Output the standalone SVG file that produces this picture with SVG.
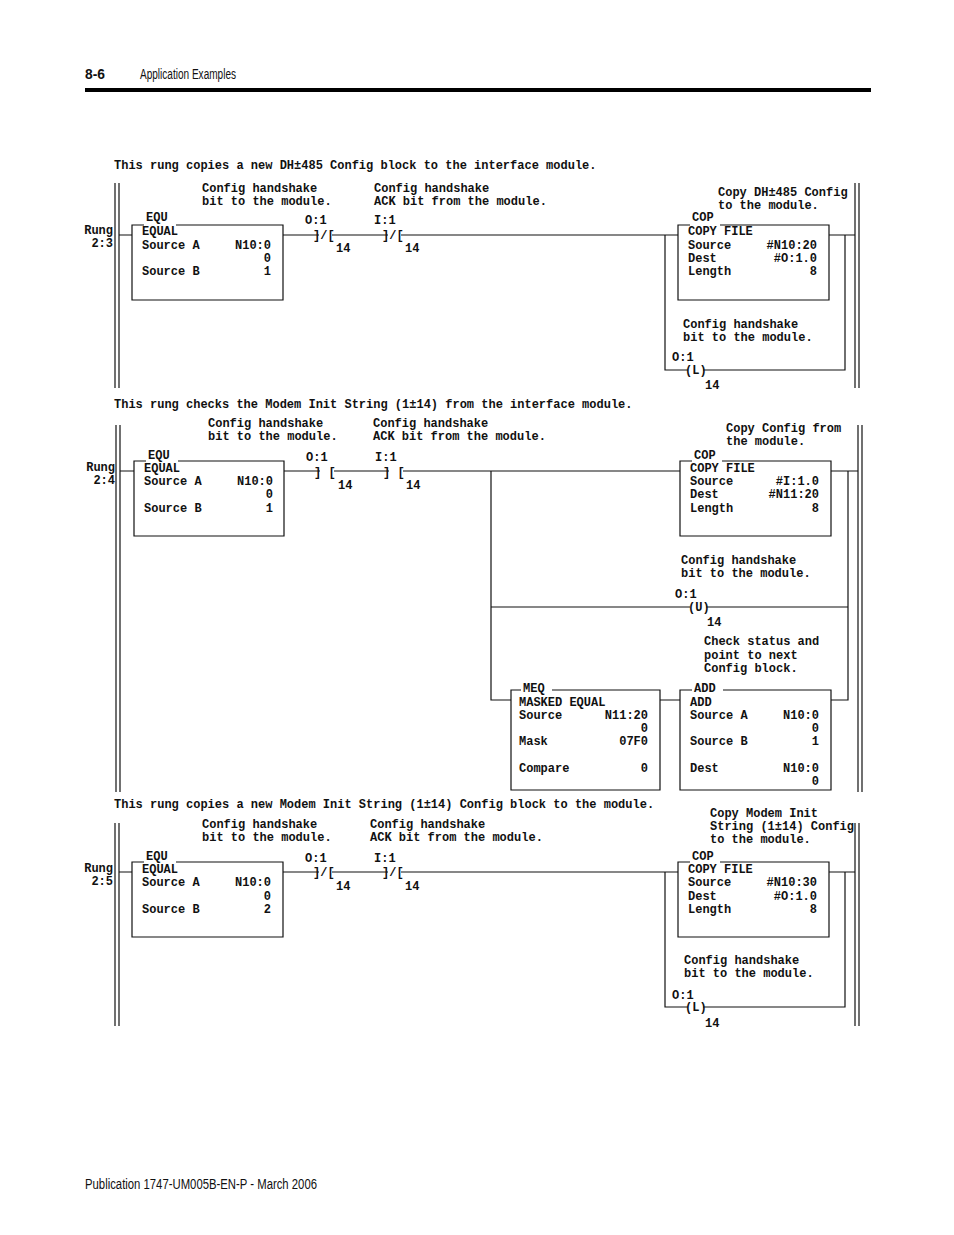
<svg xmlns="http://www.w3.org/2000/svg" width="954" height="1235" viewBox="0 0 954 1235">
<style>
text{font-family:"Liberation Mono","DejaVu Sans Mono",monospace;font-weight:bold;font-size:12px;fill:#111}
.e{text-anchor:end}
.h{font-family:"Liberation Sans",Arial,sans-serif;font-weight:normal;font-size:14px}
line,rect,path{stroke:#111;stroke-width:1.2;fill:none}
.f{stroke:none}
</style>
<rect class="f" x="0" y="0" width="954" height="1235" style="fill:#fff"/>
<text class="h" x="85" y="79" style="font-weight:bold" textLength="20" lengthAdjust="spacingAndGlyphs">8-6</text>
<text class="h" x="140" y="79" textLength="96" lengthAdjust="spacingAndGlyphs">Application Examples</text>
<rect class="f" x="85" y="88" width="786" height="4" style="fill:#000"/>
<text class="h" x="85" y="1189" textLength="232" lengthAdjust="spacingAndGlyphs">Publication 1747-UM005B-EN-P - March 2006</text>

<g id="rails">
<line x1="115" y1="183" x2="115" y2="388"/><line x1="119" y1="183" x2="119" y2="388"/>
<line x1="855" y1="183" x2="855" y2="388"/><line x1="859" y1="183" x2="859" y2="388"/>
<line x1="116" y1="425" x2="116" y2="792"/><line x1="120" y1="425" x2="120" y2="792"/>
<line x1="858" y1="425" x2="858" y2="792"/><line x1="862" y1="425" x2="862" y2="792"/>
<line x1="115" y1="823" x2="115" y2="1026"/><line x1="119" y1="823" x2="119" y2="1026"/>
<line x1="855" y1="823" x2="855" y2="1026"/><line x1="859" y1="823" x2="859" y2="1026"/>
</g>

<g id="connectors">
<path d="M119 235H132M283 235H319M332 235H388M401 235H665V370H688M703 370H845V235M829 235H855M665 235H678"/>
<path d="M120 471H134M284 471H320M334 471H389M403 471H680M831 471H858M848 471V700H831M491 471V700H511M660 700H680M491 607H690M706 607H848"/>
<path d="M119 872H132M283 872H319M332 872H388M401 872H665V1007H688M703 1007H845V872M829 872H855M665 872H678"/>
</g>

<g id="rung1">
<text x="114" y="169">This rung copies a new DH±485 Config block to the interface module.</text>
<text class="e" x="113" y="234">Rung</text><text class="e" x="113" y="247">2:3</text>
<text x="202" y="192">Config handshake</text><text x="202" y="205">bit to the module.</text>
<text x="374" y="192">Config handshake</text><text x="374" y="205">ACK bit from the module.</text>
<text x="305" y="224">O:1</text><text x="313" y="239">]/[</text><text x="336" y="252">14</text>
<text x="374" y="224">I:1</text><text x="382" y="239">]/[</text><text x="405" y="252">14</text>
<text x="718" y="196">Copy DH±485 Config</text><text x="718" y="209">to the module.</text>
<text x="683" y="328">Config handshake</text><text x="683" y="341">bit to the module.</text>
<text x="672" y="361">O:1</text><text x="685" y="374">(L)</text><text x="705" y="389">14</text>
</g>
<g id="equ1">
<path d="M144 225H132V300H283V225H176"/>
<text x="146" y="221">EQU</text><text x="142" y="235">EQUAL</text>
<text x="142" y="249">Source A</text><text class="e" x="271" y="249">N10:0</text>
<text class="e" x="271" y="262">0</text>
<text x="142" y="275">Source B</text><text class="e" x="271" y="275">1</text>
</g>
<g id="cop1">
<path d="M690 225H678V300H829V225H720"/>
<text x="692" y="221">COP</text><text x="688" y="235">COPY FILE</text>
<text x="688" y="249">Source</text><text class="e" x="817" y="249">#N10:20</text>
<text x="688" y="262">Dest</text><text class="e" x="817" y="262">#O:1.0</text>
<text x="688" y="275">Length</text><text class="e" x="817" y="275">8</text>
</g>

<g id="rung2">
<text x="114" y="408">This rung checks the Modem Init String (1±14) from the interface module.</text>
<text class="e" x="115" y="471">Rung</text><text class="e" x="115" y="484">2:4</text>
<text x="208" y="427">Config handshake</text><text x="208" y="440">bit to the module.</text>
<text x="373" y="427">Config handshake</text><text x="373" y="440">ACK bit from the module.</text>
<text x="306" y="461">O:1</text><text x="314" y="476">] [</text><text x="338" y="489">14</text>
<text x="375" y="461">I:1</text><text x="383" y="476">] [</text><text x="406" y="489">14</text>
<text x="726" y="432">Copy Config from</text><text x="726" y="445">the module.</text>
<text x="681" y="564">Config handshake</text><text x="681" y="577">bit to the module.</text>
<text x="675" y="598">O:1</text><text x="688" y="611">(U)</text><text x="707" y="626">14</text>
<text x="704" y="645">Check status and</text><text x="704" y="659">point to next</text><text x="704" y="672">Config block.</text>
</g>
<g id="equ2">
<path d="M146 461H134V536H284V461H178"/>
<text x="148" y="459">EQU</text><text x="144" y="472">EQUAL</text>
<text x="144" y="485">Source A</text><text class="e" x="273" y="485">N10:0</text>
<text class="e" x="273" y="498">0</text>
<text x="144" y="512">Source B</text><text class="e" x="273" y="512">1</text>
</g>
<g id="cop2">
<path d="M692 461H680V536H831V461H722"/>
<text x="694" y="459">COP</text><text x="690" y="472">COPY FILE</text>
<text x="690" y="485">Source</text><text class="e" x="819" y="485">#I:1.0</text>
<text x="690" y="498">Dest</text><text class="e" x="819" y="498">#N11:20</text>
<text x="690" y="512">Length</text><text class="e" x="819" y="512">8</text>
</g>
<g id="meq">
<path d="M521 690H511V790H660V690H552"/>
<text x="523" y="692">MEQ</text><text x="519" y="706">MASKED EQUAL</text>
<text x="519" y="719">Source</text><text class="e" x="648" y="719">N11:20</text>
<text class="e" x="648" y="732">0</text>
<text x="519" y="745">Mask</text><text class="e" x="648" y="745">07F0</text>
<text x="519" y="772">Compare</text><text class="e" x="648" y="772">0</text>
</g>
<g id="add">
<path d="M692 690H680V790H831V690H723"/>
<text x="694" y="692">ADD</text><text x="690" y="706">ADD</text>
<text x="690" y="719">Source A</text><text class="e" x="819" y="719">N10:0</text>
<text class="e" x="819" y="732">0</text>
<text x="690" y="745">Source B</text><text class="e" x="819" y="745">1</text>
<text x="690" y="772">Dest</text><text class="e" x="819" y="772">N10:0</text>
<text class="e" x="819" y="785">0</text>
</g>

<g id="rung3">
<text x="114" y="808">This rung copies a new Modem Init String (1±14) Config block to the module.</text>
<text class="e" x="113" y="872">Rung</text><text class="e" x="113" y="885">2:5</text>
<text x="202" y="828">Config handshake</text><text x="202" y="841">bit to the module.</text>
<text x="370" y="828">Config handshake</text><text x="370" y="841">ACK bit from the module.</text>
<text x="305" y="862">O:1</text><text x="313" y="876">]/[</text><text x="336" y="890">14</text>
<text x="374" y="862">I:1</text><text x="382" y="876">]/[</text><text x="405" y="890">14</text>
<text x="710" y="817">Copy Modem Init</text><text x="710" y="830">String (1±14) Config</text><text x="710" y="843">to the module.</text>
<text x="684" y="964">Config handshake</text><text x="684" y="977">bit to the module.</text>
<text x="672" y="999">O:1</text><text x="685" y="1011">(L)</text><text x="705" y="1027">14</text>
</g>
<g id="equ3">
<path d="M144 862H132V937H283V862H176"/>
<text x="146" y="860">EQU</text><text x="142" y="873">EQUAL</text>
<text x="142" y="886">Source A</text><text class="e" x="271" y="886">N10:0</text>
<text class="e" x="271" y="900">0</text>
<text x="142" y="913">Source B</text><text class="e" x="271" y="913">2</text>
</g>
<g id="cop3">
<path d="M690 862H678V937H829V862H720"/>
<text x="692" y="860">COP</text><text x="688" y="873">COPY FILE</text>
<text x="688" y="886">Source</text><text class="e" x="817" y="886">#N10:30</text>
<text x="688" y="900">Dest</text><text class="e" x="817" y="900">#O:1.0</text>
<text x="688" y="913">Length</text><text class="e" x="817" y="913">8</text>
</g>
</svg>
